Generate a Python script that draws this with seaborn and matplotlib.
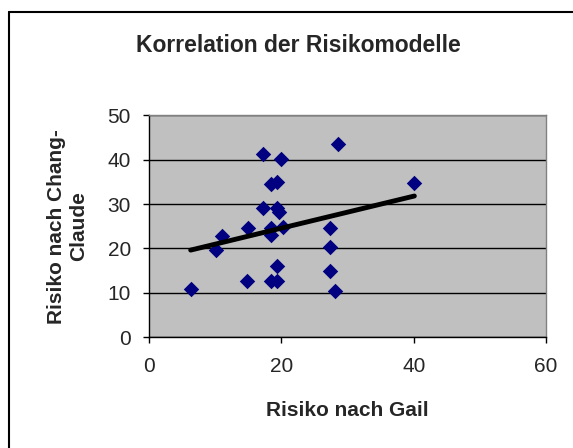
import numpy as np
import pandas as pd
import matplotlib
matplotlib.use("Agg")
import matplotlib.pyplot as plt
from matplotlib.lines import Line2D
import seaborn as sns

# Risk values
gail = [6.3, 10.1, 11.1, 14.8, 14.9, 17.2, 17.2, 18.5, 19.3, 18.5, 18.4, 18.5,
        19.3, 19.3, 19.3, 19.7, 19.9, 20.2, 27.3, 27.3, 27.3, 28.1, 28.6, 40.1]
chang_claude = [10.8, 19.7, 22.8, 12.7, 24.5, 41.2, 29.0, 34.5, 35.0, 24.7, 23.0, 12.7,
                12.7, 16.1, 29.0, 28.1, 40.2, 24.9, 24.5, 20.3, 14.9, 10.4, 43.5, 34.8]
x_ticks = [0, 20, 40, 60]
y_ticks = [0, 10, 20, 30, 40, 50]

df = pd.DataFrame({"gail": gail, "chang": chang_claude})

sns.set_style("white")
plt.rcParams["font.family"] = ["Liberation Sans", "DejaVu Sans"]

fig = plt.figure(figsize=(5.73, 4.48), dpi=100)
ax = fig.add_axes([0.260, 0.247, 0.693, 0.496])
ax.set_facecolor("#c0c0c0")

sns.regplot(data=df, x="gail", y="chang", ax=ax, ci=None, truncate=True, marker="D",
            scatter_kws=dict(s=62, color="#000080", alpha=1, linewidths=0, zorder=3),
            line_kws=dict(color="black", lw=3.5, zorder=4))

ax.set_xlim(0, 60)
ax.set_ylim(0, 50)
ax.set_xticks(x_ticks)
ax.set_yticks(y_ticks)
ax.tick_params(axis="both", labelsize=15, direction="out", length=4, width=1,
               color="black", left=True, bottom=True)
ax.tick_params(axis="x", pad=10)
ax.tick_params(axis="y", pad=9)
ax.yaxis.grid(True, color="black", lw=1)
ax.set_axisbelow(True)

for side in ["left", "bottom"]:
    ax.spines[side].set_color("black")
    ax.spines[side].set_linewidth(1)
for side in ["top", "right"]:
    ax.spines[side].set_color("#808080")
    ax.spines[side].set_linewidth(1)

ax.set_xlabel("Risiko nach Gail", fontsize=15, fontweight="bold", labelpad=18)
ax.set_ylabel("Risiko nach Chang-\nClaude", fontsize=15, fontweight="bold", labelpad=14)
fig.text(0.52, 0.898, "Korrelation der Risikomodelle", ha="center", va="center",
         fontsize=16.5, fontweight="bold")

# outer chart frame (top and left visible)
fig.add_artist(Line2D([8.5 / 573, 1.0], [1 - 12.5 / 448] * 2, color="black", lw=1.5,
                      transform=fig.transFigure))
fig.add_artist(Line2D([8.5 / 573] * 2, [0.0, 1 - 12.5 / 448], color="black", lw=1.5,
                      transform=fig.transFigure))

fig.savefig("out.png", dpi=100)
